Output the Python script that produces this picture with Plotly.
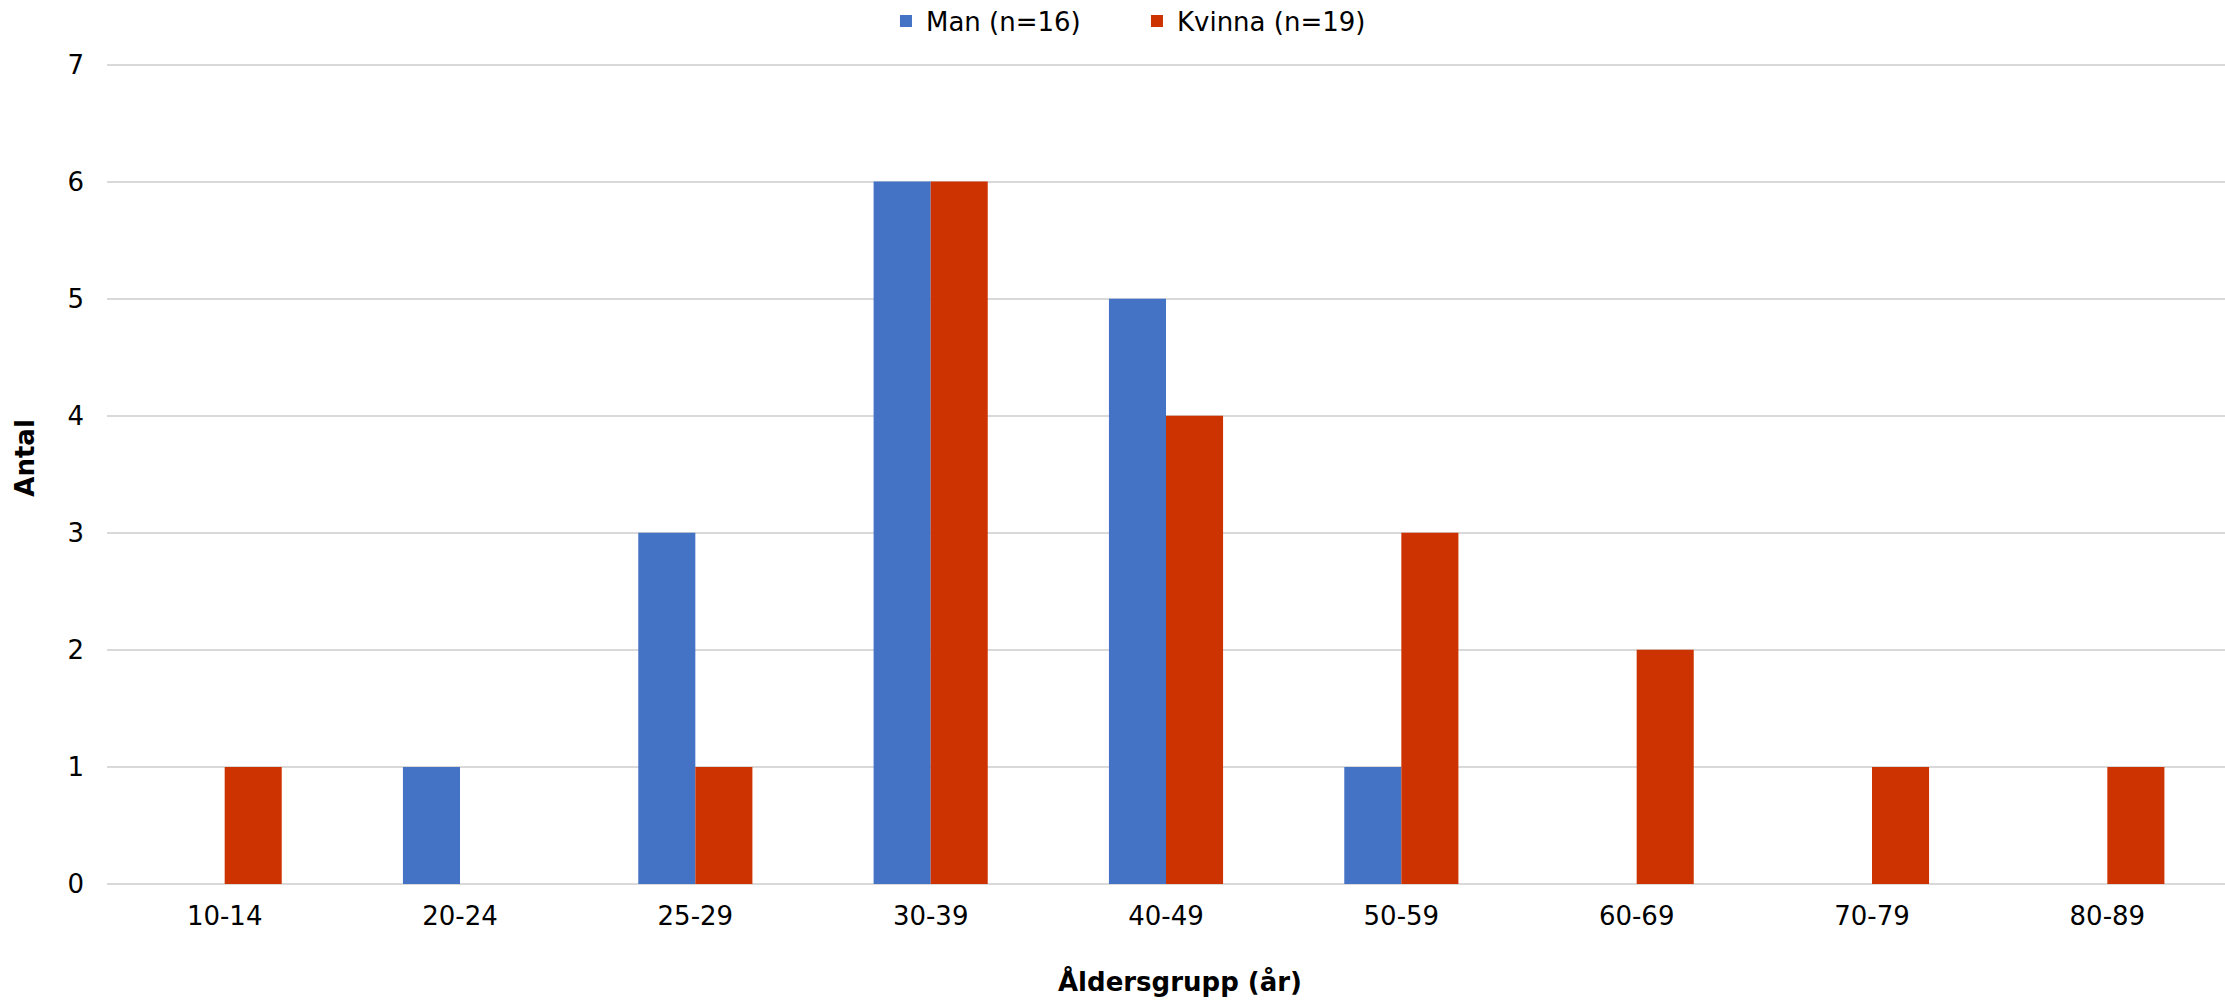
import plotly.graph_objects as go

categories = ["10-14", "20-24", "25-29", "30-39", "40-49", "50-59", "60-69", "70-79", "80-89"]
man = [0, 1, 3, 6, 5, 1, 0, 0, 0]
kvinna = [1, 0, 1, 6, 4, 3, 2, 1, 1]
man_name = "Man (n=16)"
kvinna_name = "Kvinna (n=19)"
y_ticks = [0, 1, 2, 3, 4, 5, 6, 7]

FONT = "DejaVu Sans"

fig = go.Figure()
fig.add_trace(go.Bar(x=categories, y=man, name=man_name, marker=dict(color="#4472C4", line=dict(width=0))))
fig.add_trace(go.Bar(x=categories, y=kvinna, name=kvinna_name, marker=dict(color="#CC3300", line=dict(width=0))))

fig.update_layout(
    width=2225, height=1002,
    margin=dict(l=107, r=0, t=61, b=118, autoexpand=False),
    paper_bgcolor="white", plot_bgcolor="white",
    barmode="group", bargap=0.515, bargroupgap=0,
    font=dict(family=FONT, size=26, color="#000000"),
    showlegend=True,
    legend=dict(orientation="h", xref="container", yref="container", x=0.511, xanchor="center",
                y=0.979, yanchor="middle",
                font=dict(family=FONT, size=26), itemwidth=30, traceorder="normal",
                entrywidth=206, entrywidthmode="pixels"),
    annotations=[
        dict(text="<b>Åldersgrupp (år)</b>", xref="paper", yref="paper", x=0.5066, y=-0.119,
             xanchor="center", yanchor="middle", showarrow=False, font=dict(family=FONT, size=26)),
        dict(text="<b>Antal</b>", xref="paper", yref="paper", x=-0.0387, y=0.518,
             xanchor="center", yanchor="middle", showarrow=False, textangle=-90, font=dict(family=FONT, size=26)),
    ],
)
fig.update_xaxes(showgrid=False, showline=False, ticks="", ticklabelstandoff=14,
                 tickfont=dict(family=FONT, size=26))
fig.update_yaxes(range=[0, 7.03], tickvals=y_ticks, showgrid=True, gridcolor="#D9D9D9", gridwidth=1.5,
                 zeroline=True, zerolinecolor="#D9D9D9", zerolinewidth=1.5, showline=False, ticks="",
                 ticklabelstandoff=22, tickfont=dict(family=FONT, size=26))

fig.write_html("out.html", config={"displayModeBar": False},
               post_script="document.body.style.margin='0';document.body.style.padding='0';document.documentElement.style.overflow='hidden';document.body.style.overflow='hidden';")
